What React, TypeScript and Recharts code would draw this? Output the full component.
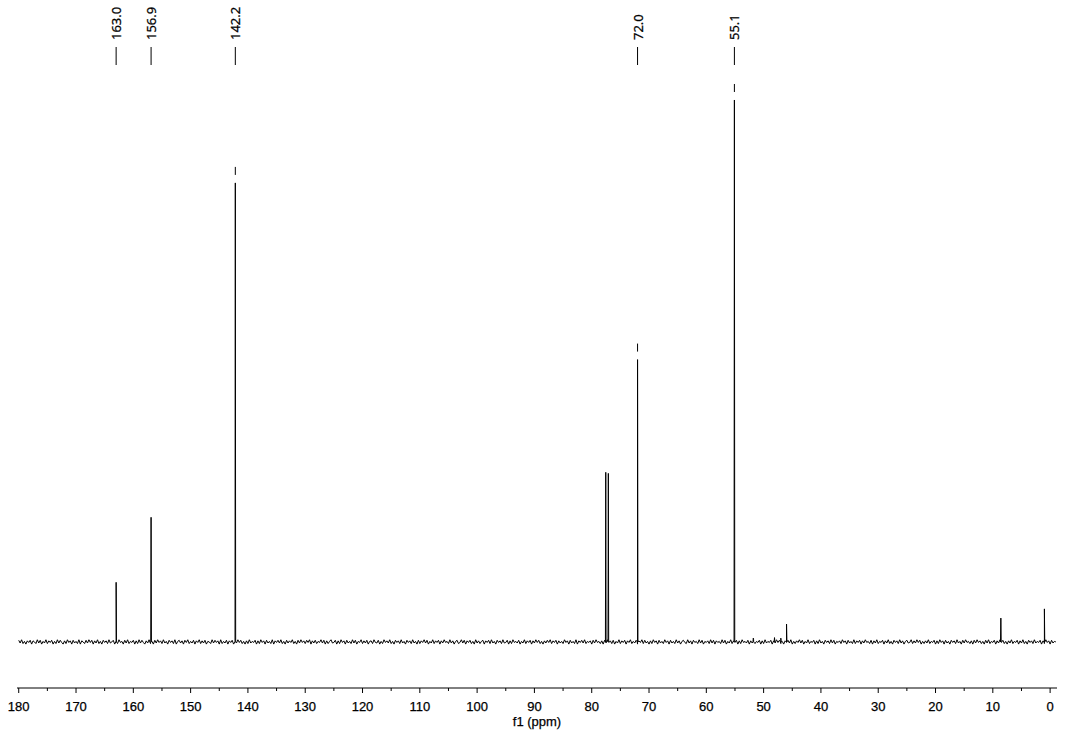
import { LineChart, Line, XAxis, YAxis, ReferenceDot } from 'recharts';

const FONT = '"Noto Sans", "DejaVu Sans", sans-serif';
const AXIS_FONT = '"Liberation Sans", Arial, sans-serif';

// 13C NMR lines, intensity scaled so the 55.1 ppm line = 1000
const peakShifts = [163.0, 156.9, 142.2, 77.55, 77.1, 72.0, 55.1, 51.8, 48.1, 47.0, 46.0, 8.6, 1.0];
const peakHeights = [110, 230, 847, 313, 311, 521, 1000, 7, 8, 7, 33, 44, 61];

const labelledShifts = [163.0, 156.9, 142.2, 72.0, 55.1];
const labelTexts = ['163.0', '156.9', '142.2', '72.0', '55.1'];
const markedShifts = [142.2, 72.0, 55.1];

// baseline noise, one sample every 0.25 ppm from 180 ppm down to -1 ppm
const noiseStart = 180;
const noiseStep = 0.25;
const noise = [
  3, -2, 4, -3, 1, -4, 2, -1, 3, -4, 2, 0, -3, 4, -2, 3, -4, 1, -2, 4, -3, 2, -1, 3, -4,
  1, -3, 4, -2, 3, -1, -4, 2, -3, 4, -1, 2, -4, 3, -2, 1, -3, 4, -4, 2, 0, -3, 3, -2, 4,
  -1, 3, -4, 2, -2, 4, -3, 1, -4, 3, -1, 2, -3, 4, -2, 0, 3, -4, 2, -3, 4, -1, 1, -4, 3,
  -2, 4, -3, 1, -1, 3, -4, 2, -3, 4, -2, 3, -1, -4, 2, -2, 4, -3, 1, -4, 3, -2, 4, -1, 2,
  -3, 4, -2, 1, -4, 3, -1, 2, -3, 4, -4, 1, 3, -2, 2, -4, 3, -1, 4, -3, 1, -2, 3, -4, 2,
  -1, 4, -3, 2, -2, 3, -4, 1, 0, -3, 4, -2, 3, -1, 2, -4, 4, -3, 1, -2, 3, -4, 2, -1, 3,
  -4, 2, -2, 4, -1, 3, -3, 1, -4, 2, -3, 4, -2, 1, -1, 3, -4, 2, -3, 4, -1, 2, -4, 3, -2,
  1, -3, 4, -4, 2, -1, 3, -2, 4, -3, 1, -4, 3, -2, 2, -1, 4, -3, 1, -4, 3, -2, 4, -1, 2,
  -3, 3, -1, 4, -4, 2, -2, 3, -3, 1, -1, 4, -2, 3, -4, 2, -3, 1, 4, -2, -1, 3, -4, 2, -3,
  4, -1, 2, -4, 3, -2, 1, -3, 4, -2, 3, -4, 1, -1, 4, -3, 2, -2, 3, -4, 1, 2, -3, 4, -1,
  -2, 3, -4, 1, -3, 4, -1, 2, -2, 4, -3, 1, -4, 3, -1, 2, -3, 4, -2, 1, -4, 3, -1, 2, -3,
  4, -2, 1, -4, 3, -3, 2, -1, 4, -2, 3, -4, 1, -2, 4, -3, 2, -1, 3, -4, 2, -2, 4, -1, 1,
  -3, 4, -2, 2, -4, 1, 3, -3, -1, 4, -2, 3, -4, 2, -1, 3, -3, 1, -4, 4, -2, 2, -3, 1, 3,
  -4, 2, -1, 3, -3, 4, -2, 1, -4, 3, -1, 2, -3, 4, -2, -1, 3, -4, 2, -3, 4, -1, 1, -2, 3,
  -4, 1, -2, 4, -3, 2, -1, 3, -4, 2, -2, 4, -1, 3, -3, 1, -4, 2, -2, 3, -1, 4, -3, 2, -1,
  3, -4, 2, -2, 1, -3, 4, -1, 2, -4, 3, -2, 1, -3, 4, -4, 2, -1, 3, -2, 4, -3, 1, -1, 2,
  -4, 3, -2, 4, -1, 1, -3, 2, -4, 3, -2, 4, -1, 2, -3, 3, -4, 1, -2, 4, -3, 2, -1, 3, -4,
  2, -1, 4, -3, 1, -2, 3, -4, 2, -1, 4, -3, 3, -2, 1, -4, 2, -3, 4, -1, 2, -4, 3, -2, 1,
  -3, 4, -1, 2, -4, 3, -2, 1, -3, 4, -2, 2, -4, 1, 3, -1, -3, 4, -2, 2, -4, 3, -1, 1, -3,
  4, -2, 3, -4, 1, -1, 2, -3, 4, -2, 3, -4, 2, -1, 1, -3, 4, -2, 3, -4, 1, -2, 4, -3, 2,
  -1, 3, -4, 2, -3, 4, -1, 1, -2, 3, -4, 2, -2, 4, -3, 1, -1, 3, -4, 2, -3, 4, -2, 1, -1,
  3, -4, 2, -2, 4, -1, 3, -3, 1, -4, 2, -1, 3, -2, 4, -4, 1, -3, 2, -1, 4, -2, 3, -4, 1,
  -2, 4, -3, 1, -1, 3, -4, 2, -3, 4, -2, 1, -4, 3, -1, 2, -3, 4, -2, 3, -4, 1, -1, 2, -3,
  4, -1, 2, -4, 3, -2, 1, -3, 4, -3, 2, -1, 3, -4, 2, -2, 4, -1, 1, -3, 3, -4, 2, -2, 4,
  -3, 1, -1, 3, -4, 2, -2, 4, -3, 1, -4, 3, -1, 2, -3, 4, -2, 2, -4, 1, 3, -2, -1, 4, -3,
  2, -2, 4, -1, 3, -4, 1, -3, 2, -2, 4, -3, 1, -1, 3, -4, 2, -3, 4, -1, 2, -4, 3, -2, 1,
  -4, 3, -1, 2, -3, 4, -2, 1, -4, 3, -2, 4, -1, 1, -3, 2, -4, 3, -2, 4, -1, 2, -3, 1, -4,
  3, -2, 4, -3, 1, -1, 3, -4, 2, -2, 4, -1, 3, -3, 1, -4, 2, -2, 4, -3, 1, -1, 3, -4, 2,
  -2, 4, -3, 1, -4, 3, -1, 2, -3, 4, -2, 1, -1, 3, -4, 2, -3, 4, -1, 2, -4, 3, -2, 1, 0,
];

const xTicks = [
  180, 175, 170, 165, 160, 155, 150, 145, 140, 135, 130, 125, 120, 115, 110, 105, 100, 95, 90, 85, 80, 75,
  70, 65, 60, 55, 50, 45, 40, 35, 30, 25, 20, 15, 10, 5, 0,
];

const spectrum = [
  ...noise.map((v, i) => ({ ppm: noiseStart - i * noiseStep, y: v })),
  ...peakShifts.flatMap((p, i) => [
    { ppm: p + 0.06, y: 0 },
    { ppm: p, y: peakHeights[i] },
    { ppm: p - 0.06, y: 0 },
  ]),
].sort((a, b) => b.ppm - a.ppm);

const heightOf = (ppm: number) => peakHeights[peakShifts.indexOf(ppm)];

// slightly heavier glyphs, closer to the original Tahoma rendering
const textPaint = { fill: '#000', stroke: '#000', strokeWidth: 0.25 };

function PpmTick(props: any) {
  const { x, y, payload } = props;
  const major = payload.value % 10 === 0;
  return (
    <g>
      <line x1={x} x2={x} y1={y} y2={y + (major ? 5 : 3)} stroke="#000" />
      {major && (
        <text x={x} y={y + 23} textAnchor="middle" fontSize={13} fontFamily={AXIS_FONT} {...textPaint}>
          {payload.value}
        </text>
      )}
    </g>
  );
}

export default function App() {
  return (
    <div style={{ position: 'absolute', left: 0, top: 0, width: 1072, height: 730, background: '#fff' }}>
      <LineChart width={1072} height={730} data={spectrum} margin={{ top: 0, right: 15, bottom: 0, left: 17 }}>
        <XAxis
          dataKey="ppm"
          type="number"
          domain={[-1.2, 180.3]}
          allowDataOverflow
          reversed
          ticks={xTicks}
          interval={0}
          tickSize={0}
          tickMargin={0}
          tick={<PpmTick />}
          axisLine={{ stroke: '#000' }}
          height={42}
          label={{ value: 'f1 (ppm)', position: 'insideBottom', offset: 4, fontSize: 13, fontFamily: AXIS_FONT, ...textPaint }}
        />
        <YAxis hide domain={[-85, 1184.5]} allowDataOverflow />
        <Line
          dataKey="y"
          type="linear"
          stroke="#000"
          strokeWidth={1}
          dot={false}
          isAnimationActive={false}
        />
        {labelledShifts.map((p, i) => (
          <ReferenceDot
            key={`lab-${p}`}
            x={p}
            y={heightOf(p)}
            r={0}
            shape={(s: any) => (
              <g>
                <line x1={s.cx} x2={s.cx} y1={47} y2={65} stroke="#000" />
                <text
                  transform={`translate(${s.cx},40) rotate(-90)`}
                  dominantBaseline="central"
                  fontSize={13}
                  fontFamily={FONT}
                  {...textPaint}
                >
                  {labelTexts[i]}
                </text>
              </g>
            )}
          />
        ))}
        {markedShifts.map((p) => (
          <ReferenceDot
            key={`mark-${p}`}
            x={p}
            y={heightOf(p)}
            r={0}
            shape={(s: any) => <line x1={s.cx} x2={s.cx} y1={s.cy - 16} y2={s.cy - 8} stroke="#000" />}
          />
        ))}
      </LineChart>
    </div>
  );
}
